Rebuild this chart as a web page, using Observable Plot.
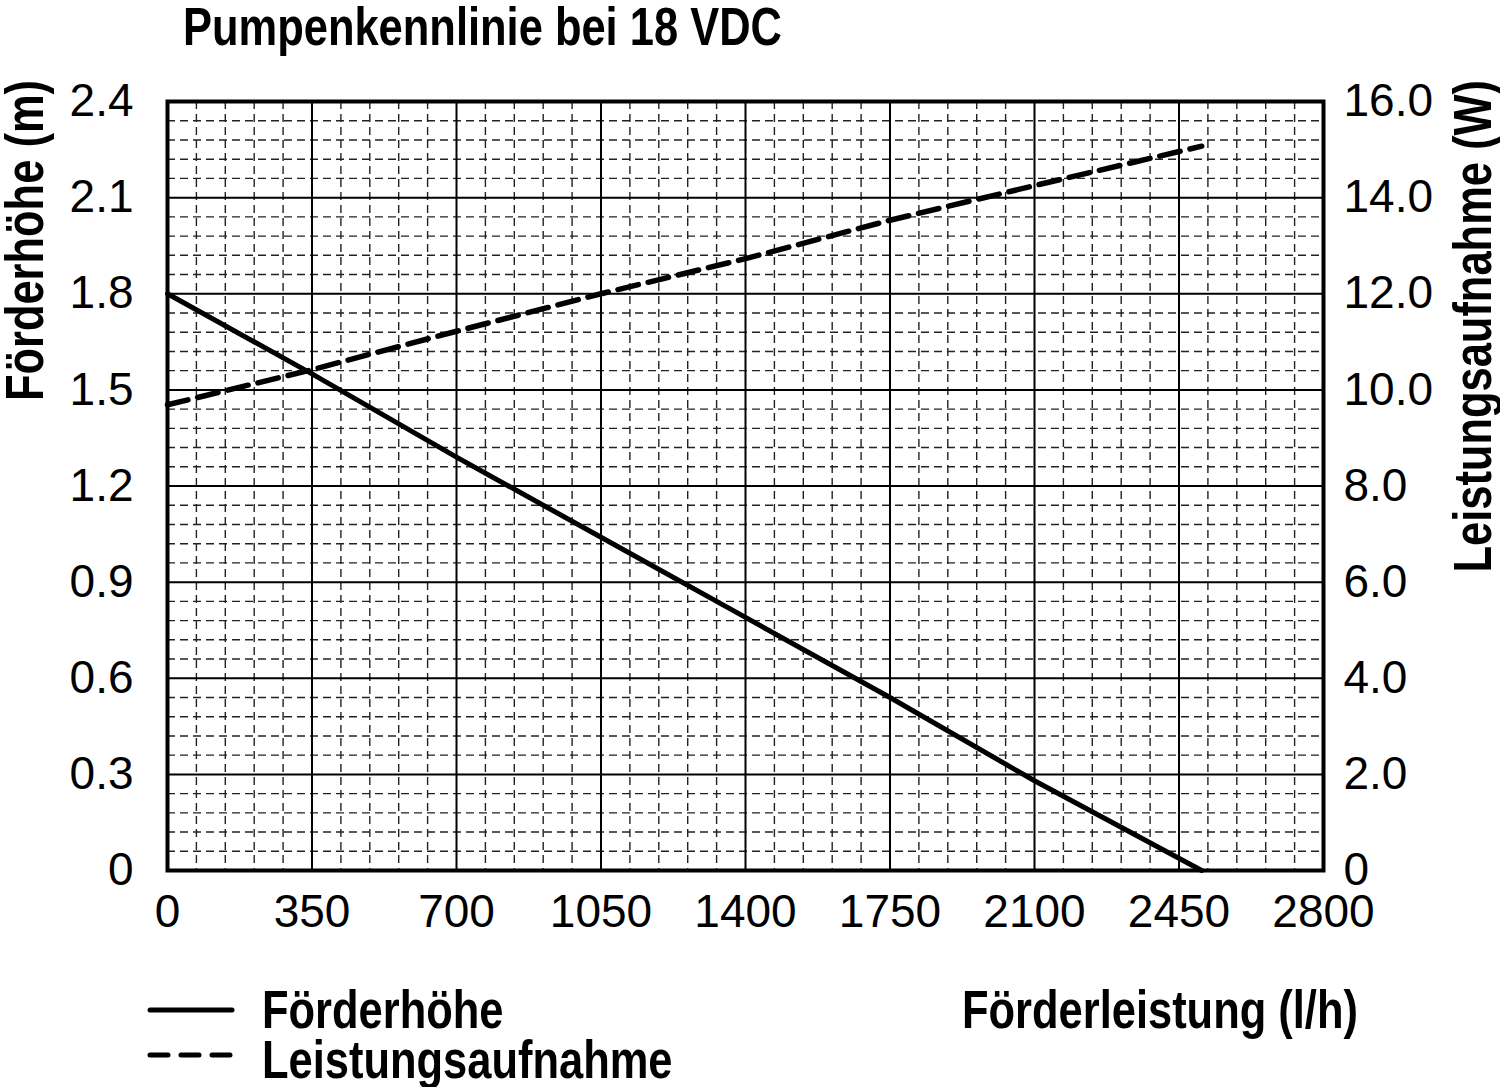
<!DOCTYPE html>
<html>
<head>
<meta charset="utf-8">
<script src="https://cdn.jsdelivr.net/npm/d3@7"></script>
<script src="https://cdn.jsdelivr.net/npm/@observablehq/plot@0.6"></script>
<style>
  html, body { margin: 0; padding: 0; background: #fff; }
  #wrap { position: relative; width: 1500px; height: 1087px; overflow: hidden; background: #fff; color: #000; }
  .bold { font-family: "Liberation Sans", Arial, sans-serif; font-weight: bold; font-size: 53px; line-height: 48px; white-space: nowrap; position: absolute; transform-origin: 0 0; }
  .narrow { transform: scaleX(0.82); }
  .vert { left: 0; top: 0; }
  #chart { position: absolute; left: 0; top: 60px; }
  .sw { position: absolute; }
</style>
</head>
<body>
<div id="wrap">
  <div class="bold narrow" id="title" style="left:183px; top:3px;">Pumpenkennlinie bei 18 VDC</div>
  <div id="chart"></div>
  <div class="bold vert" id="ylabL" data-x="1">Förderhöhe (m)</div>
  <div class="bold vert" id="ylabR" data-x="1449">Leistungsaufnahme (W)</div>
  <div class="bold narrow" id="xlab" style="left:962px; top:986px;">Förderleistung (l/h)</div>
  <svg class="sw" style="left:140px; top:995px;" width="100" height="80">
    <line x1="10" x2="92" y1="15" y2="15" stroke="#000" stroke-width="5" stroke-linecap="round"/>
    <line x1="10" x2="92" y1="60" y2="60" stroke="#000" stroke-width="5" stroke-linecap="round" stroke-dasharray="18,13"/>
  </svg>
  <div class="bold narrow" style="left:262px; top:986px;">Förderhöhe</div>
  <div class="bold narrow" style="left:262px; top:1036px;">Leistungsaufnahme</div>
</div>
<script>
// Data
const flow  = [0, 350, 700, 1050, 1400, 1750, 2100, 2505];          // Förderleistung (l/h)
const head  = [1.80, 1.55, 1.29, 1.04, 0.79, 0.54, 0.28, 0.00];     // Förderhöhe (m)
const power = [9.69, 10.42, 11.22, 12.00, 12.73, 13.53, 14.25, 15.07]; // Leistungsaufnahme (W)

const xTicks = [0, 350, 700, 1050, 1400, 1750, 2100, 2450, 2800];
const yTicks = [0, 0.3, 0.6, 0.9, 1.2, 1.5, 1.8, 2.1, 2.4];
const wTickLabels = ["0", "2.0", "4.0", "6.0", "8.0", "10.0", "12.0", "14.0", "16.0"];
const hTickLabels = ["0", "0.3", "0.6", "0.9", "1.2", "1.5", "1.8", "2.1", "2.4"];

const W_MAX = 16, H_MAX = 2.4;
const toH = w => w * H_MAX / W_MAX;

const minorX = d3.range(70, 2800, 70).filter(v => v % 350 !== 0);
const minorY = d3.range(1, 40).map(i => i * 0.06).filter((v, i) => (i + 1) % 5 !== 0);

const headData = flow.map((x, i) => ({x, y: head[i]}));
const powerData = flow.map((x, i) => ({x, y: toH(power[i])}));

const chart = Plot.plot({
  width: 1500,
  height: 890,
  marginLeft: 167,
  marginRight: 177,
  marginTop: 41,
  marginBottom: 80,
  style: {fontFamily: "'Liberation Sans', Arial, sans-serif", fontSize: "46px", color: "#000", background: "#fff"},
  x: {domain: [0, 2800]},
  y: {domain: [0, 2.4]},
  marks: [
    Plot.ruleX(minorX, {stroke: "#222", strokeWidth: 1.4, strokeDasharray: "8,5"}),
    Plot.ruleY(minorY, {stroke: "#222", strokeWidth: 1.4, strokeDasharray: "8,5"}),
    Plot.ruleX(xTicks, {stroke: "#000", strokeWidth: 2}),
    Plot.ruleY(yTicks, {stroke: "#000", strokeWidth: 2}),
    Plot.line(headData, {x: "x", y: "y", stroke: "#000", strokeWidth: 5}),
    Plot.line(powerData, {x: "x", y: "y", stroke: "#000", strokeWidth: 5.5, strokeDasharray: "21,10"}),
    Plot.frame({stroke: "#000", strokeWidth: 4}),
    Plot.axisX(xTicks, {tickSize: 0, tickPadding: 24, label: null, fontSize: 46, tickFormat: d => String(d)}),
    Plot.axisY(yTicks, {anchor: "left", tickSize: 0, tickPadding: 34, label: null, fontSize: 46,
      tickFormat: d => hTickLabels[yTicks.indexOf(d)]}),
    Plot.axisY(yTicks, {anchor: "right", tickSize: 0, tickPadding: 20, label: null, fontSize: 46,
      tickFormat: d => wTickLabels[yTicks.indexOf(d)]})
  ]
});
document.getElementById("chart").appendChild(chart);

// rotated axis titles: text reads bottom-to-top, ending at y = 80
for (const id of ["ylabL", "ylabR"]) {
  const el = document.getElementById(id);
  const w = el.getBoundingClientRect().width * 0.82;
  const X = +el.dataset.x, Y = 80 + w;
  el.style.transform = `translate(${X}px, ${Y}px) rotate(-90deg) scaleX(0.82)`;
}
</script>
</body>
</html>
